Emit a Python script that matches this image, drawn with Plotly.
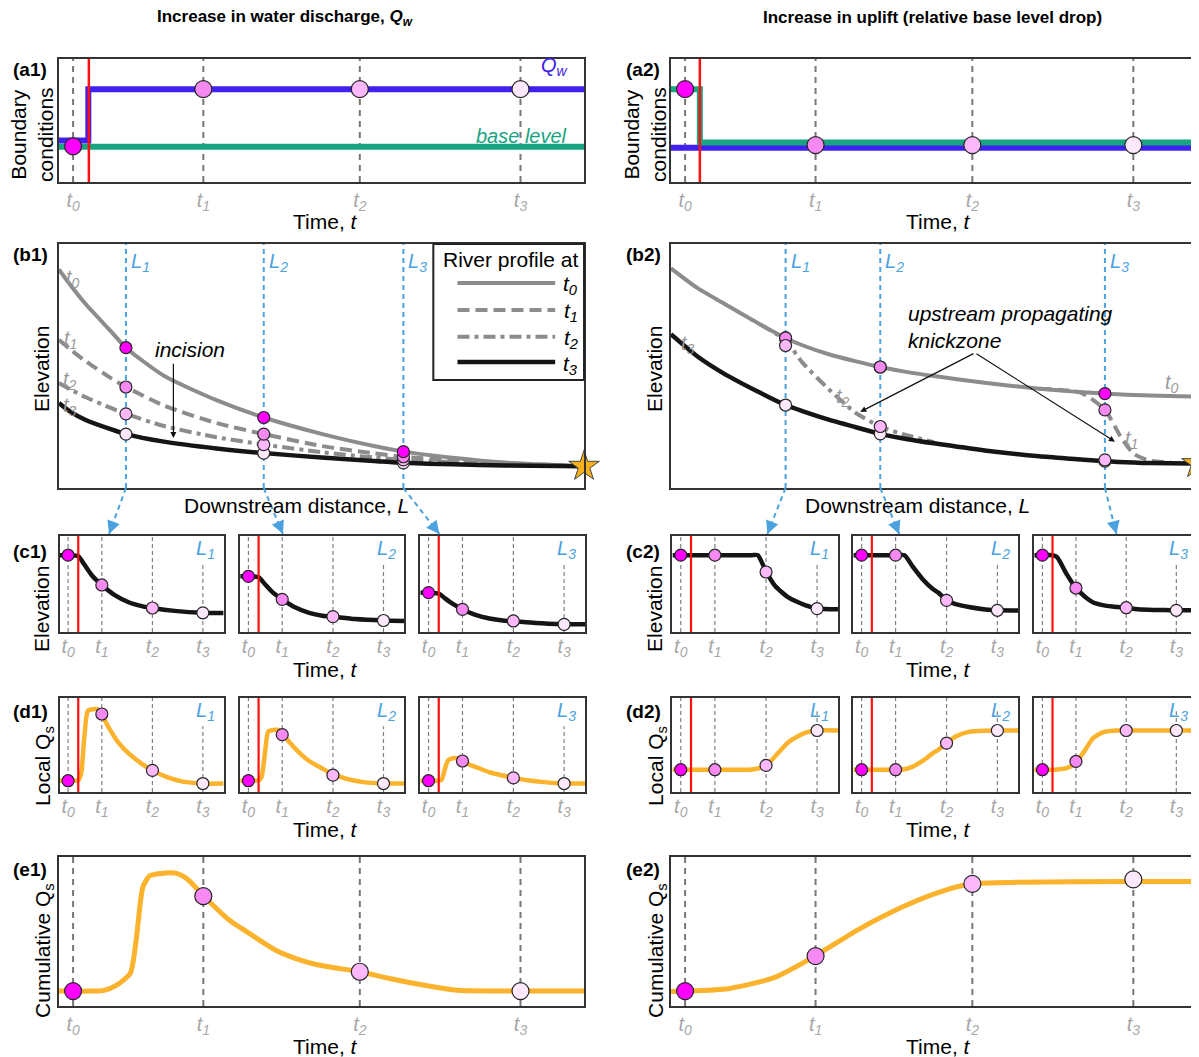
import math
import plotly.graph_objects as go

# The page body has an 8 px default margin, so the figure is 8 px smaller and
# every reference pixel position is shifted by that offset.
OFF = 8
W, H = 1199 - OFF, 1057 - OFF
FONT = "Liberation Sans, Arial, sans-serif"

# ---------------- data ----------------
TICK_TEXT = ["<i>t</i><sub><i>0</i></sub>", "<i>t</i><sub><i>1</i></sub>",
             "<i>t</i><sub><i>2</i></sub>", "<i>t</i><sub><i>3</i></sub>"]
BIG_T = [0.027, 0.275, 0.573, 0.879]
SMALL_T = [0.05, 0.256, 0.565, 0.873]
RED_A1 = 0.057
RED_A2 = 0.055
RED_SMALL = 0.112
T_COLORS = ["#ff00ff", "#f78af2", "#fdb8fb", "#fde8fc"]

# (a1) / (a2) boundary conditions
A1_QW_X = [0, 0.056, 0.056, 1]
A1_QW_Y = [0.337, 0.337, 0.755, 0.755]
A1_BL_X = [0, 1]
A1_BL_Y = [0.286, 0.286]
A1_MARKERS = [0.29, 0.755, 0.755, 0.755]
A2_BL_X = [0, 0.055, 0.055, 1]
A2_BL_Y = [0.755, 0.755, 0.322, 0.322]
A2_QW_X = [0, 1]
A2_QW_Y = [0.278, 0.278]
A2_MARKERS = [0.755, 0.30, 0.30, 0.30]

# (b1) river profiles
L_POS_1 = [0.1276, 0.39, 0.656]
B1_X = [0, 0.02, 0.05, 0.1, 0.1276, 0.2, 0.3, 0.39, 0.5, 0.6, 0.656, 0.75, 0.85, 1.0]
B1_T0 = [0.896, 0.837, 0.756, 0.64, 0.575, 0.46, 0.36, 0.289, 0.222, 0.172, 0.149, 0.124, 0.104, 0.089]
B1_T1 = [0.607, 0.571, 0.521, 0.449, 0.414, 0.338, 0.266, 0.221, 0.172, 0.142, 0.128, 0.114, 0.101, 0.089]
B1_T2 = [0.43, 0.406, 0.373, 0.327, 0.304, 0.254, 0.208, 0.178, 0.147, 0.125, 0.115, 0.106, 0.097, 0.089]
B1_T3 = [0.348, 0.315, 0.28, 0.24, 0.221, 0.19, 0.162, 0.143, 0.125, 0.111, 0.103, 0.097, 0.092, 0.089]
B1_MARKS = [[0.575, 0.414, 0.304, 0.221],   # at L1 (t0..t3)
            [0.289, 0.221, 0.178, 0.143],   # at L2
            [0.149, 0.128, 0.115, 0.103]]   # at L3

# (b2) river profiles
L_POS_2 = [0.218, 0.398, 0.825]
B2_X = [0, 0.05, 0.1, 0.17, 0.218, 0.25, 0.3, 0.35, 0.398, 0.45, 0.5, 0.6, 0.7, 0.76, 0.825, 0.85, 0.88, 0.91, 1.0]
B2_T0 = [0.90, 0.82, 0.757, 0.67, 0.615, 0.585, 0.548, 0.52, 0.496, 0.475, 0.459, 0.43, 0.407, 0.396, 0.387, 0.384, 0.381, 0.379, 0.375]
B2_T3 = [0.63, 0.54, 0.47, 0.39, 0.34, 0.315, 0.28, 0.25, 0.222, 0.2, 0.183, 0.153, 0.13, 0.12, 0.11, 0.107, 0.104, 0.102, 0.10]
B2_T2_X = [0.17, 0.218, 0.25, 0.3, 0.35, 0.398, 0.45, 0.5]
B2_T2_Y = [0.67, 0.605, 0.514, 0.405, 0.31, 0.252, 0.215, 0.188]
B2_T1_X = [0.7, 0.78, 0.825, 0.855, 0.88, 0.91, 0.95]
B2_T1_Y = [0.407, 0.39, 0.32, 0.21, 0.14, 0.112, 0.105]
B2_MARKS = [[0.615, 0.615, 0.584, 0.34],
            [0.496, 0.496, 0.252, 0.222],
            [0.387, 0.32, 0.115, 0.11]]

# (c1) elevation at L1..L3
C1_X = [0, 0.05, 0.112, 0.15, 0.2, 0.256, 0.33, 0.42, 0.5, 0.565, 0.7, 0.873, 1.0]
C1_Y = [[0.80, 0.80, 0.79, 0.70, 0.58, 0.49, 0.39, 0.31, 0.27, 0.25, 0.22, 0.20, 0.198],
        [0.58, 0.58, 0.57, 0.50, 0.41, 0.34, 0.26, 0.20, 0.17, 0.16, 0.135, 0.12, 0.115],
        [0.41, 0.41, 0.40, 0.35, 0.29, 0.236, 0.18, 0.14, 0.12, 0.113, 0.095, 0.083, 0.08]]
C1_MARKS = [[0.80, 0.49, 0.25, 0.20], [0.58, 0.34, 0.16, 0.12], [0.41, 0.236, 0.115, 0.08]]

# (d1) local Qs at L1..L3
D1_X = [0, 0.05, 0.112, 0.13, 0.15, 0.17, 0.2, 0.23, 0.256, 0.3, 0.36, 0.42, 0.5, 0.565, 0.65, 0.75, 0.873, 1.0]
D1_Y = [[0.12, 0.12, 0.125, 0.2, 0.6, 0.86, 0.88, 0.88, 0.82, 0.68, 0.52, 0.41, 0.30, 0.23, 0.16, 0.11, 0.09, 0.09],
        [0.12, 0.12, 0.125, 0.16, 0.4, 0.64, 0.66, 0.66, 0.62, 0.53, 0.42, 0.33, 0.25, 0.19, 0.14, 0.105, 0.09, 0.09],
        [0.12, 0.12, 0.12, 0.13, 0.25, 0.34, 0.36, 0.355, 0.33, 0.29, 0.25, 0.21, 0.175, 0.15, 0.125, 0.105, 0.09, 0.09]]
D1_MARKS = [[0.12, 0.83, 0.23, 0.09], [0.12, 0.61, 0.18, 0.09], [0.12, 0.33, 0.15, 0.09]]

# (c2) elevation at L1..L3
C2_X = [0, 0.05, 0.112, 0.14, 0.2, 0.256, 0.31, 0.36, 0.42, 0.48, 0.515, 0.565, 0.62, 0.7, 0.8, 0.873, 1.0]
C2_Y = [[0.8, 0.8, 0.8, 0.8, 0.8, 0.8, 0.8, 0.8, 0.8, 0.8, 0.8, 0.63, 0.48, 0.36, 0.28, 0.245, 0.236],
        [0.8, 0.8, 0.8, 0.8, 0.8, 0.8, 0.8, 0.68, 0.55, 0.45, 0.41, 0.33, 0.29, 0.26, 0.235, 0.226, 0.225],
        [0.8, 0.8, 0.8, 0.78, 0.6, 0.458, 0.37, 0.31, 0.28, 0.265, 0.26, 0.253, 0.24, 0.232, 0.228, 0.226, 0.225]]
C2_MARKS = [[0.8, 0.8, 0.625, 0.243], [0.8, 0.8, 0.33, 0.226], [0.8, 0.458, 0.253, 0.226]]

# (d2) local Qs at L1..L3
D2_X = C2_X
D2_Y = [[0.237, 0.237, 0.237, 0.237, 0.237, 0.237, 0.237, 0.237, 0.237, 0.24, 0.25, 0.283, 0.38, 0.53, 0.63, 0.654, 0.654],
        [0.237, 0.237, 0.237, 0.237, 0.237, 0.237, 0.242, 0.27, 0.33, 0.41, 0.45, 0.52, 0.59, 0.64, 0.652, 0.654, 0.654],
        [0.237, 0.237, 0.237, 0.24, 0.255, 0.31, 0.44, 0.57, 0.635, 0.652, 0.654, 0.654, 0.654, 0.654, 0.654, 0.654, 0.654]]
D2_MARKS = [[0.237, 0.237, 0.283, 0.654], [0.237, 0.237, 0.52, 0.654], [0.237, 0.325, 0.654, 0.654]]

# (e1) / (e2) cumulative Qs
E1_X = [0, 0.027, 0.06, 0.086, 0.11, 0.136, 0.147, 0.16, 0.173, 0.194, 0.224, 0.245, 0.276, 0.325,
        0.37, 0.412, 0.45, 0.492, 0.572, 0.63, 0.688, 0.76, 0.877, 1.0]
E1_Y = [0.1, 0.1, 0.1, 0.105, 0.14, 0.22, 0.44, 0.80, 0.874, 0.89, 0.89, 0.85, 0.737, 0.575,
        0.47, 0.376, 0.32, 0.277, 0.23, 0.185, 0.144, 0.105, 0.1, 0.1]
E1_MARKS = [0.1, 0.737, 0.23, 0.1]
E2_X = [0, 0.027, 0.109, 0.196, 0.274, 0.356, 0.443, 0.515, 0.572, 0.66, 0.878, 1.0]
E2_Y = [0.098, 0.10, 0.116, 0.19, 0.335, 0.513, 0.67, 0.77, 0.82, 0.83, 0.835, 0.835]
E2_MARKS = [0.10, 0.335, 0.82, 0.85]

# ---------------- styles ----------------
BLUE_L = "#4aa2de"
ORANGE = "#fbb22c"
GRAY_PROF = "#8c8c8c"
BLACK = "#151515"
QW_BLUE = "#4020f0"
BL_GREEN = "#18a381"
RED = "#ff1010"
TICK_GRAY = "#a8a8a8"

fig = go.Figure()
layout = {}
shapes = []
annotations = []


def xr(i):
    return "x" if i == 1 else f"x{i}"


def yr(i):
    return "y" if i == 1 else f"y{i}"


def pxx(p):
    return (p - OFF) / W


def pxy(p):
    return 1 - (p - OFF) / H


def px(xp, yp):
    return pxx(xp), pxy(yp)


def dom_x(a, b):
    return [max(pxx(a), 0.0), min(pxx(b), 1.0)]


def dom_y(top, bot):
    return [pxy(bot), pxy(top)]


counter = [0]
DOMAINS = {}


def add_axes(xpx, ypx, tvals=None, standoff=-1):
    counter[0] += 1
    i = counter[0]
    xa = dict(domain=dom_x(*xpx), range=[0, 1], anchor=yr(i), showgrid=False, zeroline=False,
              showline=True, mirror=True, linecolor="#333", linewidth=2, fixedrange=True, ticks="")
    if tvals is not None:
        xa.update(tickmode="array", tickvals=tvals, ticktext=TICK_TEXT,
                  tickfont=dict(size=20, color=TICK_GRAY, family=FONT), ticklabelstandoff=standoff)
    else:
        xa.update(showticklabels=False)
    ya = dict(domain=dom_y(*ypx), range=[0, 1], anchor=xr(i), showgrid=False, zeroline=False,
              showline=True, mirror=True, linecolor="#333", linewidth=2, showticklabels=False,
              ticks="", fixedrange=True)
    key = "" if i == 1 else str(i)
    layout["xaxis" + key] = xa
    layout["yaxis" + key] = ya
    DOMAINS[i] = (xa["domain"], ya["domain"])
    return i


def tlines(i, tvals, width, dash, color, tops=None):
    for k, t in enumerate(tvals):
        top = 1 if tops is None else tops[k]
        shapes.append(dict(type="line", xref=xr(i), yref=yr(i) + " domain", x0=t, x1=t, y0=0, y1=top,
                           line=dict(color=color, width=width, dash=dash), layer="below"))


def redline(i, x, width=2.5):
    shapes.append(dict(type="line", xref=xr(i), yref=yr(i) + " domain", x0=x, x1=x, y0=0, y1=1,
                       line=dict(color=RED, width=width), layer="above"))


def line_trace(i, x, y, color, width, dash="solid", shape="spline", smoothing=0.6):
    fig.add_trace(go.Scatter(x=x, y=y, xaxis=xr(i), yaxis=yr(i), mode="lines",
                             line=dict(color=color, width=width, dash=dash, shape=shape,
                                       smoothing=smoothing if shape == "spline" else None),
                             hoverinfo="skip"))


def marker_trace(i, x, y, colors, size):
    fig.add_trace(go.Scatter(x=x, y=y, xaxis=xr(i), yaxis=yr(i), mode="markers",
                             marker=dict(color=colors, size=size, line=dict(color="#262626", width=1.2)),
                             cliponaxis=False, hoverinfo="skip"))


def text(x, y, s, size=21, color="black", xanchor="center", yanchor="middle", angle=0,
         xref="paper", yref="paper", align="center"):
    annotations.append(dict(x=x, y=y, xref=xref, yref=yref, text=s, showarrow=False,
                            font=dict(size=size, color=color, family=FONT), xanchor=xanchor,
                            yanchor=yanchor, textangle=angle, align=align))


# ---------------- panel geometry (reference pixels) ----------------
LEFT_BIG = (59, 585)
RIGHT_BIG = (672, 1199)
ROW_A = (59, 182)
ROW_B = (244, 488)
ROW_C = (536, 632)
ROW_D = (698, 792)
ROW_E = (857, 1006)
SMALL_LEFT = [(60, 224), (240.6, 405), (421, 586)]
SMALL_RIGHT = [(673.6, 839.5), (854.8, 1020), (1036, 1199)]

# ---------------- (a1) ----------------
ia1 = add_axes(LEFT_BIG, ROW_A, BIG_T)
tlines(ia1, BIG_T, 2, "6px,5px", "#777")
line_trace(ia1, A1_BL_X, A1_BL_Y, BL_GREEN, 6, shape="linear")
line_trace(ia1, A1_QW_X, A1_QW_Y, QW_BLUE, 6, shape="linear")
redline(ia1, RED_A1)
marker_trace(ia1, BIG_T, A1_MARKERS, T_COLORS, 17)
text(0.943, 0.935, "<i>Q<sub>w</sub></i>", 20, QW_BLUE, xref="x domain", yref="y domain")
text(0.88, 0.37, "<i>base level</i>", 20, BL_GREEN, xref="x domain", yref="y domain")

# ---------------- (a2) ----------------
ia2 = add_axes(RIGHT_BIG, ROW_A, BIG_T)
tlines(ia2, BIG_T, 2, "6px,5px", "#777")
line_trace(ia2, A2_QW_X, A2_QW_Y, QW_BLUE, 6, shape="linear")
line_trace(ia2, A2_BL_X, A2_BL_Y, BL_GREEN, 6, shape="linear")
redline(ia2, RED_A2)
marker_trace(ia2, BIG_T, A2_MARKERS, T_COLORS, 17)

# ---------------- (b1) ----------------
ib1 = add_axes(LEFT_BIG, ROW_B)
line_trace(ib1, B1_X, B1_T0, GRAY_PROF, 4)
line_trace(ib1, B1_X, B1_T1, GRAY_PROF, 4, dash="12px,6px")
line_trace(ib1, B1_X, B1_T2, GRAY_PROF, 4, dash="12px,5px,4px,5px")
line_trace(ib1, B1_X, B1_T3, BLACK, 4.5)
for L in L_POS_1:
    line_trace(ib1, [L, L], [0, 1], BLUE_L, 2, dash="5px,4px", shape="linear")
order_b1 = [3, 2, 1, 0]
for k, L in enumerate(L_POS_1):
    marker_trace(ib1, [L] * 4, [B1_MARKS[k][j] for j in order_b1], [T_COLORS[j] for j in order_b1], 12)
fig.add_trace(go.Scatter(x=[1.0], y=[B1_T3[-1]], xaxis=xr(ib1), yaxis=yr(ib1), mode="markers",
                         marker=dict(symbol="star", size=23, color="#f6b01c", line=dict(color="#444", width=1)),
                         cliponaxis=False, hoverinfo="skip"))
for k, L in enumerate(L_POS_1):
    text(L, 0.985, f"<i>L</i><sub><i>{k+1}</i></sub>", 20, BLUE_L, xanchor="left", yanchor="top",
         xref=xr(ib1), yref=yr(ib1) + " domain")
    annotations[-1]["xshift"] = 3
d1x, d1y = xr(ib1) + " domain", yr(ib1) + " domain"
text(0.026, 0.86, TICK_TEXT[0], 20, "#999", xref=d1x, yref=d1y)
text(0.022, 0.61, TICK_TEXT[1], 20, "#999", xref=d1x, yref=d1y)
text(0.022, 0.44, TICK_TEXT[2], 20, "#999", xref=d1x, yref=d1y)
text(0.022, 0.335, TICK_TEXT[3], 20, "#999", xref=d1x, yref=d1y)
text(0.25, 0.566, "<i>incision</i>", 21, xref=xr(ib1), yref=yr(ib1))
annotations.append(dict(x=0.218, y=0.205, ax=0.218, ay=0.515, xref=xr(ib1), yref=yr(ib1),
                        axref=xr(ib1), ayref=yr(ib1), text="", showarrow=True, arrowhead=2,
                        arrowsize=1, arrowwidth=1.2, arrowcolor="#111"))
# legend box (River profile at)
shapes.append(dict(type="rect", xref=d1x, yref=d1y, x0=0.713, x1=1.0, y0=0.443, y1=1.0,
                   line=dict(color="#222", width=2), fillcolor="white", layer="above"))
text(0.86, 0.935, "River profile at", 21, xref=d1x, yref=d1y)
LEG_Y = [0.84, 0.73, 0.62, 0.516]
LEG_STYLE = [(GRAY_PROF, "solid", 4), (GRAY_PROF, "12px,6px", 4), (GRAY_PROF, "12px,5px,4px,5px", 4),
             (BLACK, "solid", 4.5)]
for k in range(4):
    c, d, w = LEG_STYLE[k]
    shapes.append(dict(type="line", xref=d1x, yref=d1y, x0=0.759, x1=0.945, y0=LEG_Y[k], y1=LEG_Y[k],
                       line=dict(color=c, width=w, dash=d), layer="above"))
    text(0.975, LEG_Y[k] - 0.01, TICK_TEXT[k], 21, "black", xref=d1x, yref=d1y)

# ---------------- (b2) ----------------
ib2 = add_axes(RIGHT_BIG, ROW_B)
line_trace(ib2, B2_X, B2_T0, GRAY_PROF, 4)
line_trace(ib2, B2_T2_X, B2_T2_Y, GRAY_PROF, 4, dash="12px,5px,4px,5px")
line_trace(ib2, B2_T1_X, B2_T1_Y, GRAY_PROF, 4, dash="12px,6px")
line_trace(ib2, B2_X, B2_T3, BLACK, 4.5)
for L in L_POS_2:
    line_trace(ib2, [L, L], [0, 1], BLUE_L, 2, dash="5px,4px", shape="linear")
order_b2 = [3, 0, 1, 2]
for k, L in enumerate(L_POS_2):
    marker_trace(ib2, [L] * 4, [B2_MARKS[k][j] for j in order_b2], [T_COLORS[j] for j in order_b2], 12)
fig.add_trace(go.Scatter(x=[1.0], y=[B2_T3[-1]], xaxis=xr(ib2), yaxis=yr(ib2), mode="markers",
                         marker=dict(symbol="star", size=23, color="#f6b01c", line=dict(color="#444", width=1)),
                         cliponaxis=False, hoverinfo="skip"))
for k, L in enumerate(L_POS_2):
    text(L, 0.985, f"<i>L</i><sub><i>{k+1}</i></sub>", 20, BLUE_L, xanchor="left", yanchor="top",
         xref=xr(ib2), yref=yr(ib2) + " domain")
    annotations[-1]["xshift"] = 3
d2x, d2y = xr(ib2) + " domain", yr(ib2) + " domain"
text(0.032, 0.59, TICK_TEXT[3], 20, "#999", xref=d2x, yref=d2y)
text(0.327, 0.37, TICK_TEXT[2], 20, "#999", xref=d2x, yref=d2y)
text(0.876, 0.2, TICK_TEXT[1], 20, "#999", xref=d2x, yref=d2y)
text(0.953, 0.43, TICK_TEXT[0], 20, "#999", xref=d2x, yref=d2y)
text(0.447, 0.77, "<i>upstream propagating<br>knickzone</i>", 21, xanchor="left", yanchor="top",
     xref=d2x, yref=d2y, align="left")
for hx, hy in [(0.36, 0.312), (0.844, 0.19)]:
    annotations.append(dict(x=hx, y=hy, ax=0.578, ay=0.554, xref=xr(ib2), yref=yr(ib2),
                            axref=xr(ib2), ayref=yr(ib2), text="", showarrow=True, arrowhead=2,
                            arrowsize=1, arrowwidth=1.2, arrowcolor="#111"))


# ---------------- small panels ----------------
def small_panel(xpx, ypx, cx, cy, marks, color, width, label, t3top):
    i = add_axes(xpx, ypx, SMALL_T, standoff=-5)
    tlines(i, SMALL_T, 1.2, "4px,3px", "#808080", tops=[1, 1, 1, t3top])
    line_trace(i, cx, cy, color, width)
    redline(i, RED_SMALL, 2.2)
    marker_trace(i, SMALL_T, marks, T_COLORS, 12)
    text(0.96, 1.01, label, 20, BLUE_L, xanchor="right", yanchor="top",
         xref=xr(i) + " domain", yref=yr(i) + " domain")
    return i


LLAB = [f"<i>L</i><sub><i>{k}</i></sub>" for k in (1, 2, 3)]
c1_ids, c2_ids = [], []
for k in range(3):
    c1_ids.append(small_panel(SMALL_LEFT[k], ROW_C, C1_X, C1_Y[k], C1_MARKS[k], BLACK, 4.5, LLAB[k], 0.7))
for k in range(3):
    c2_ids.append(small_panel(SMALL_RIGHT[k], ROW_C, C2_X, C2_Y[k], C2_MARKS[k], BLACK, 4.5, LLAB[k], 0.7))
for k in range(3):
    small_panel(SMALL_LEFT[k], ROW_D, D1_X, D1_Y[k], D1_MARKS[k], ORANGE, 4.5, LLAB[k], 0.7)
for k in range(3):
    small_panel(SMALL_RIGHT[k], ROW_D, D2_X, D2_Y[k], D2_MARKS[k], ORANGE, 4.5, LLAB[k], 0.86)

# ---------------- (e1) / (e2) ----------------
ie1 = add_axes(LEFT_BIG, ROW_E, BIG_T)
tlines(ie1, BIG_T, 2, "6px,5px", "#777")
line_trace(ie1, E1_X, E1_Y, ORANGE, 5)
marker_trace(ie1, BIG_T, E1_MARKS, T_COLORS, 17)
ie2 = add_axes(RIGHT_BIG, ROW_E, BIG_T)
tlines(ie2, BIG_T, 2, "6px,5px", "#777")
line_trace(ie2, E2_X, E2_Y, ORANGE, 5)
marker_trace(ie2, BIG_T, E2_MARKS, T_COLORS, 17)

# ---------------- connectors from L lines to (c) panels ----------------
C1_ARROW_FRAC = [0.30, 0.26, 0.116]
C2_ARROW_FRAC = [0.573, 0.278, 0.505]


def connectors(b_id, Ls, c_ids, fracs):
    bx = DOMAINS[b_id][0]
    by = DOMAINS[b_id][1]
    for L, cid, f in zip(Ls, c_ids, fracs):
        sx = bx[0] + L * (bx[1] - bx[0])
        sy = by[0]
        cx_dom, cy_dom = DOMAINS[cid]
        ex = cx_dom[0] + f * (cx_dom[1] - cx_dom[0])
        ey = cy_dom[1] + 2 / H
        shapes.append(dict(type="line", xref="paper", yref="paper", x0=sx, y0=sy, x1=ex, y1=ey,
                           line=dict(color=BLUE_L, width=2, dash="5px,4px"), layer="above"))
        dxp = (ex - sx) * W
        dyp = -(ey - sy) * H
        n = math.hypot(dxp, dyp)
        annotations.append(dict(x=ex, y=ey, xref="paper", yref="paper", text="", showarrow=True,
                                arrowhead=2, arrowsize=1.3, arrowwidth=2, arrowcolor=BLUE_L,
                                ax=-dxp / n * 9, ay=-dyp / n * 9))


connectors(ib1, L_POS_1, c1_ids, C1_ARROW_FRAC)
connectors(ib2, L_POS_2, c2_ids, C2_ARROW_FRAC)

# ---------------- titles, labels ----------------
text(*px(285, 18), "<b>Increase in water discharge, <i>Q<sub>w</sub></i></b>", 17)
text(*px(934, 18), "<b>Increase in uplift (relative base level drop)</b>", 17)

for lab, xl, yt in [("(a1)", 11, 57), ("(a2)", 625, 57), ("(b1)", 11, 242), ("(b2)", 625, 242),
                    ("(c1)", 11, 539), ("(c2)", 625, 539), ("(d1)", 11, 699), ("(d2)", 625, 699),
                    ("(e1)", 11, 857), ("(e2)", 625, 857)]:
    x, y = px(xl, yt)
    text(x, y, f"<b>{lab}</b>", 19, xanchor="left", yanchor="top")

for off in (0, 614):
    text(*px(32 + off, 134), "Boundary<br>conditions", 21, angle=-90)
    text(*px(41 + off, 369), "Elevation", 21, angle=-90)
    text(*px(41 + off, 609), "Elevation", 21, angle=-90)
    text(*px(44 + off, 766), "Local Q<sub>s</sub>", 21, angle=-90)
    text(*px(44 + off, 950), "Cumulative Q<sub>s</sub>", 21, angle=-90)
    for yy in (221, 669, 829, 1046):
        text(*px(326 + off, yy), "Time, <i>t</i>", 21)
text(*px(297, 505), "Downstream distance, <i>L</i>", 21)
text(*px(919, 505), "Downstream distance, <i>L</i>", 21)

layout.update(width=W, height=H, margin=dict(l=0, r=0, t=0, b=0), paper_bgcolor="white",
              plot_bgcolor="white", showlegend=False, shapes=shapes, annotations=annotations,
              font=dict(family=FONT, size=18, color="black"))
fig.update_layout(**layout)
fig.write_html("out.html")
